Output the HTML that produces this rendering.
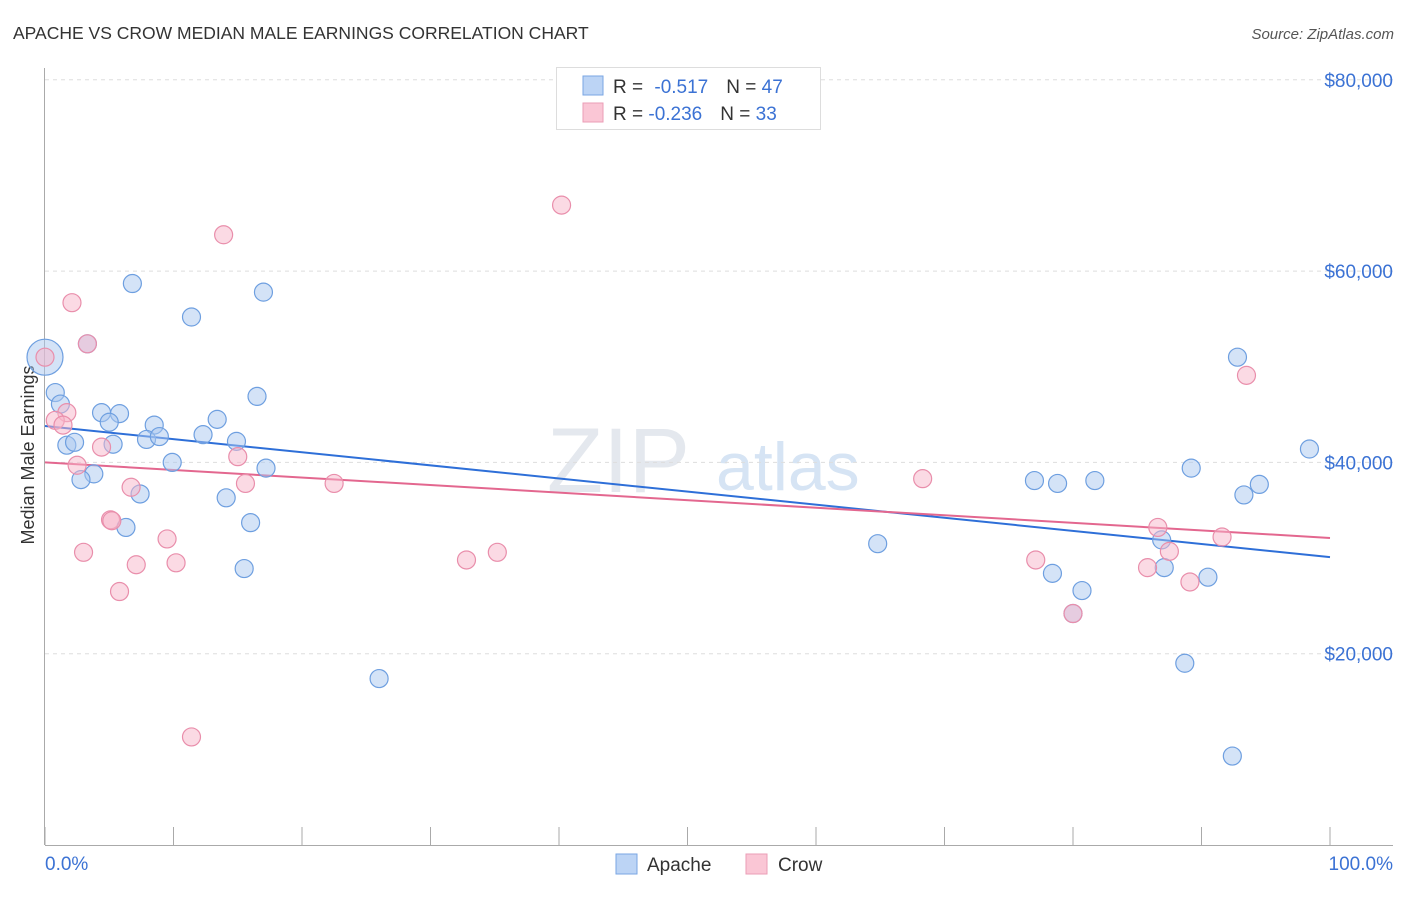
<!DOCTYPE html>
<html><head><meta charset="utf-8"><style>
body{margin:0;background:#fff;font-family:"Liberation Sans",sans-serif;}
svg text{font-family:"Liberation Sans",sans-serif;}
</style></head><body>
<svg id="chart" width="1406" height="892" viewBox="0 0 1406 892">
<text x="13" y="39" font-size="17.5" fill="#333">APACHE VS CROW MEDIAN MALE EARNINGS CORRELATION CHART</text>
<text x="1394" y="39" font-size="15" fill="#555" font-style="italic" text-anchor="end">Source: ZipAtlas.com</text>
<text x="690" y="492" font-size="92" fill="#e4e8ee" text-anchor="end" font-family="Liberation Serif">ZIP</text>
<text x="716" y="490" font-size="68" fill="#d6e4f4">atlas</text>
<text transform="translate(34,455) rotate(-90)" font-size="18" fill="#333" text-anchor="middle">Median Male Earnings</text>
<g id="grid"></g><g id="axes"></g><g id="trend"></g><g id="points"></g>
<g>
<rect x="556.5" y="67.5" width="264" height="62" fill="#fff" stroke="#ddd"/>
<rect x="583" y="76" width="20" height="19" fill="#bcd4f5" stroke="#7aa6e3"/>
<rect x="583" y="103" width="20" height="19" fill="#fac6d5" stroke="#eb9db6"/>
<text x="613" y="93" font-size="19" fill="#333">R = <tspan fill="#3b72d4" dx="6">-0.517</tspan><tspan dx="18" fill="#333">N = </tspan><tspan fill="#3b72d4">47</tspan></text>
<text x="613" y="120" font-size="19" fill="#333">R = <tspan fill="#3b72d4">-0.236</tspan><tspan dx="18" fill="#333">N = </tspan><tspan fill="#3b72d4">33</tspan></text>
</g>
<g>
<rect x="616" y="854" width="21" height="20" fill="#bcd4f5" stroke="#7aa6e3"/>
<text x="647" y="871" font-size="19" fill="#333">Apache</text>
<rect x="746" y="854" width="21" height="20" fill="#fac6d5" stroke="#eb9db6"/>
<text x="778" y="871" font-size="19" fill="#333">Crow</text>
</g>
</svg>
<script>
const yTicks=[20000,40000,60000,80000];
const yTickLabels=["$20,000","$40,000","$60,000","$80,000"];
const apacheX=[6.8,17.0,11.4,3.3,0,0.8,1.2,16.5,4.4,5.8,5.0,8.5,13.4,12.3,7.9,8.9,14.9,1.7,2.3,5.3,9.9,17.2,3.8,2.8,7.4,14.1,16.0,6.3,15.5,26.0,64.8,77.0,78.8,81.7,89.2,92.8,98.4,94.5,93.3,86.9,87.1,78.4,90.5,80.7,80.0,88.7,92.4];
const apacheY=[58700,57800,55200,52400,51000,47300,46100,46900,45200,45100,44200,43900,44500,42900,42400,42700,42200,41800,42100,41900,40000,39400,38800,38200,36700,36300,33700,33200,28900,17400,31500,38100,37800,38100,39400,51000,41400,37700,36600,31900,29000,28400,28000,26600,24200,19000,9300];
const crowX=[2.1,3.3,0,1.7,0.8,1.4,2.5,4.4,6.7,15.0,15.6,22.5,5.1,5.2,3.0,7.1,9.5,10.2,5.8,13.9,40.2,11.4,32.8,35.2,68.3,77.1,80.0,86.6,93.5,91.6,87.5,85.8,89.1];
const crowY=[56700,52400,51000,45200,44400,43900,39700,41600,37400,40600,37800,37800,34000,33900,30600,29300,32000,29500,26500,63800,66900,11300,29800,30600,38300,29800,24200,33200,49100,32200,30700,29000,27500];
const apacheTrend=[43800,30100];
const crowTrend=[40000,32100];
const NS="http://www.w3.org/2000/svg";
const X0=45,X1=1330,YB=845,PX=191.3/20000;
const sx=p=>X0+(X1-X0)*p/100;
const sy=v=>YB-v*PX;
function mk(tag,attrs,parent){const e=document.createElementNS(NS,tag);for(const k in attrs)e.setAttribute(k,attrs[k]);parent.appendChild(e);return e;}
const grid=document.getElementById('grid'),axes=document.getElementById('axes'),trend=document.getElementById('trend'),pts=document.getElementById('points');
yTicks.forEach((t,i)=>{
 const l=mk('line',{x1:45,x2:1393,y1:sy(t),y2:sy(t),stroke:'#ddd','stroke-dasharray':'4,4'},grid);
 
 
 const tx=mk('text',{x:1393,y:sy(t)+7,'font-size':19,fill:'#3b72d4','text-anchor':'end'},axes);
 tx.textContent=yTickLabels[i];
 
 
});
let a=mk('line',{x1:44.5,x2:44.5,y1:68,y2:YB,stroke:'#aaa'},axes);


a=mk('line',{x1:45,x2:1393,y1:YB+0.5,y2:YB+0.5,stroke:'#aaa'},axes);


for(let i=0;i<=10;i++){const t=mk('line',{x1:sx(i*10),x2:sx(i*10),y1:YB,y2:827,stroke:'#aaa'},axes);
 
 }
let xl=mk('text',{x:45,y:870,'font-size':19,fill:'#3b72d4'},axes);xl.textContent='0.0%';


xl=mk('text',{x:1393,y:870,'font-size':19,fill:'#3b72d4','text-anchor':'end'},axes);xl.textContent='100.0%';


function drawSeries(xs,ys,fill,stroke,name){
 xs.forEach((x,i)=>{const big=(x===0&&ys[i]===51000&&name==='apache');
  const c=mk('circle',{cx:sx(x),cy:sy(ys[i]),r:big?18:9,fill:fill,'fill-opacity':0.5,stroke:stroke,'stroke-width':1.2},pts);
  
  });
}
drawSeries(apacheX,apacheY,'#a9c8f0','#6e9fe0','apache');
drawSeries(crowX,crowY,'#f7b6ca','#e98eab','crow');
let tl=mk('line',{x1:sx(0),y1:sy(apacheTrend[0]),x2:sx(100),y2:sy(apacheTrend[1]),stroke:'#2e6fd8','stroke-width':2},trend);


tl=mk('line',{x1:sx(0),y1:sy(crowTrend[0]),x2:sx(100),y2:sy(crowTrend[1]),stroke:'#e3678f','stroke-width':2},trend);


</script>
</body></html>
